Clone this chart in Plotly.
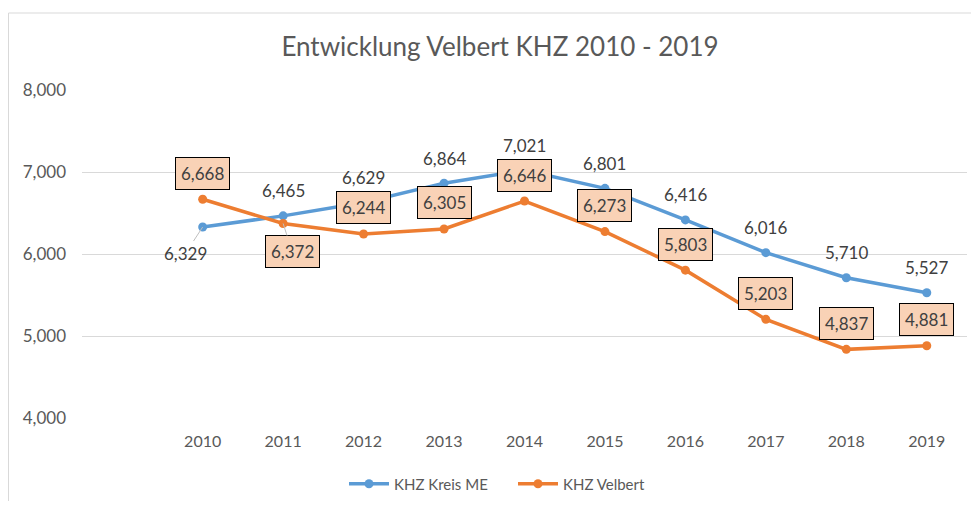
import plotly.graph_objects as go

years = [2010, 2011, 2012, 2013, 2014, 2015, 2016, 2017, 2018, 2019]
kreis_me = [6329, 6465, 6629, 6864, 7021, 6801, 6416, 6016, 5710, 5527]
velbert = [6668, 6372, 6244, 6305, 6646, 6273, 5803, 5203, 4837, 4881]
series_names = ["KHZ Kreis ME", "KHZ Velbert"]
title_text = "Entwicklung Velbert KHZ 2010 - 2019"
y_ticks = [4000, 5000, 6000, 7000, 8000]

BLUE = "#5B9BD5"
ORANGE = "#ED7D31"
GREY_TXT = "#595959"
LABEL_TXT = "#404040"
FONT = "Lato"

# page body has an 8px margin; figure sized to fit inside it
W, H = 963, 493
L, T, R, B = 74, 82, 4, 83
PW, PH = W - L - R, H - T - B

fig = go.Figure()
fig.add_trace(go.Scatter(x=years, y=kreis_me, name=series_names[0], mode="lines+markers",
                         line=dict(color=BLUE, width=3.5), marker=dict(size=9, color=BLUE)))
fig.add_trace(go.Scatter(x=years, y=velbert, name=series_names[1], mode="lines+markers",
                         line=dict(color=ORANGE, width=3.5), marker=dict(size=9, color=ORANGE)))

annotations = []
# special label offsets (pixels) with leader lines
blue_special = {0: (-17, 26)}
orange_special = {1: (9, 28)}
label_font = dict(family=FONT, size=17, color=LABEL_TXT)

for i, (x, v) in enumerate(zip(years, kreis_me)):
    txt = f"{v:,}"
    if i in blue_special:
        ax, ay = blue_special[i]
        annotations.append(dict(x=x, y=v, text=txt, showarrow=True, ax=ax, ay=ay,
                                arrowhead=0, arrowwidth=1, arrowcolor="#BFBFBF",
                                font=label_font))
    else:
        annotations.append(dict(x=x, y=v, text=txt, showarrow=False, yshift=25,
                                font=label_font))

box_style = dict(bgcolor="#F9D2B6", bordercolor="#000000", borderwidth=1, borderpad=5)
for i, (x, v) in enumerate(zip(years, velbert)):
    txt = f"{v:,}"
    if i in orange_special:
        ax, ay = orange_special[i]
        annotations.append(dict(x=x, y=v, text=txt, showarrow=True, ax=ax, ay=ay,
                                arrowhead=0, arrowwidth=1, arrowcolor="#BFBFBF",
                                font=label_font, **box_style))
    else:
        annotations.append(dict(x=x, y=v, text=txt, showarrow=False, yshift=26,
                                font=label_font, **box_style))

fig.update_layout(
    width=W, height=H,
    margin=dict(l=L, r=R, t=T, b=B, autoexpand=False),
    paper_bgcolor="white", plot_bgcolor="white",
    font=dict(family=FONT, size=16, color=GREY_TXT),
    title=dict(text=title_text, xref="container", x=(500 - 8) / W, xanchor="center",
               yref="container", y=1 - 39 / H, yanchor="middle",
               font=dict(family=FONT, size=26, color=GREY_TXT)),
    xaxis=dict(range=[years[0] - 1.5, years[-1] + 0.5], tickvals=years,
               ticktext=[str(y) for y in years], showgrid=False, zeroline=False,
               showline=False, ticks="", ticklabelstandoff=12,
               tickfont=dict(family=FONT, size=16, color=GREY_TXT)),
    yaxis=dict(range=[4000, 8000], tickvals=y_ticks, tickformat=",d",
               showgrid=True, gridcolor="#D9D9D9", gridwidth=1, zeroline=False,
               showline=False, ticks="", ticklabelstandoff=15,
               tickfont=dict(family=FONT, size=17, color=GREY_TXT)),
    legend=dict(orientation="h", xref="container", x=(513 - 8) / W, xanchor="center",
                yref="container", y=1 - 476 / H, yanchor="middle",
                font=dict(family=FONT, size=15, color=GREY_TXT),
                itemwidth=40, entrywidth=114, entrywidthmode="pixels",
                traceorder="normal"),
    annotations=annotations,
    shapes=[dict(type="rect", xref="paper", yref="paper",
                 x0=(0.5 - L) / PW, x1=(W + 10 - L) / PW,
                 y0=(PH + 100) / -PH, y1=(PH + T - 5) / PH,
                 line=dict(color="#D9D9D9", width=1), fillcolor="rgba(0,0,0,0)", layer="below")],
)

fig.write_html("out.html")
